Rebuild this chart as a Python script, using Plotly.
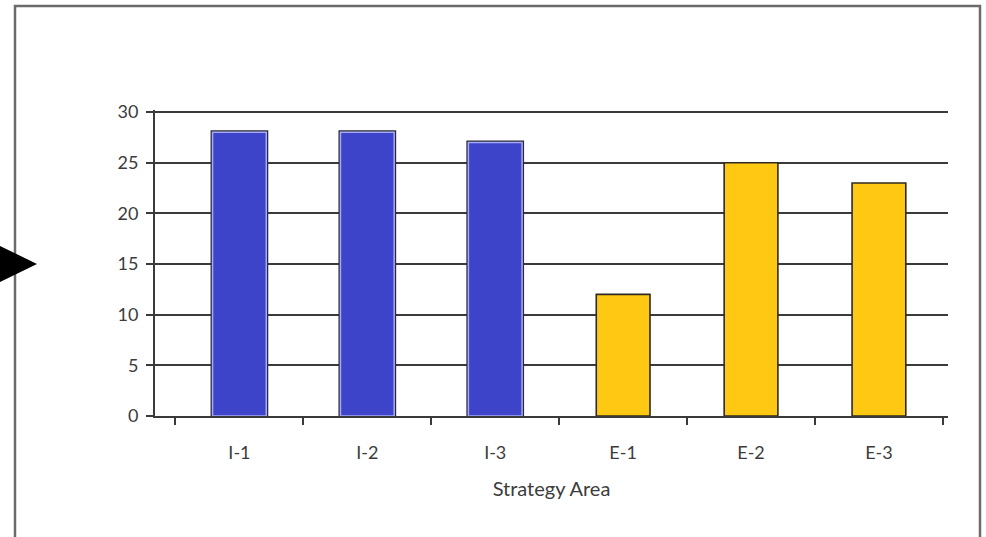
import plotly.graph_objects as go

# Strategy areas and the counts shown for each
intrinsic_areas = ["I-1", "I-2", "I-3"]
intrinsic_counts = [28, 28, 27]
extrinsic_areas = ["E-1", "E-2", "E-3"]
extrinsic_counts = [12, 25, 23]
category_order = intrinsic_areas + extrinsic_areas
y_ticks = [0, 5, 10, 15, 20, 25, 30]
y_max = 30.2  # a little headroom so the top gridline is kept

W, H = 986, 537
L, R, T, B = 155, 38, 110, 121
pw, ph = W - L - R, H - T - B

def px_x(x):
    return (x - L) / pw

def px_y(y):
    return (H - B - y) / ph

FONT = "Lato, 'Open Sans', sans-serif"
DARK = "#3a3a3a"
TEXT = "#3c3c3c"
BAR_W = 0.42

fig = go.Figure()

# blue bars: dark outer outline, then a thinner lavender inner edge on top
fig.add_trace(go.Bar(
    x=intrinsic_areas, y=intrinsic_counts, width=BAR_W,
    marker=dict(color="#3d44c9", line=dict(color="#2a2a3a", width=4)),
    hoverinfo="x+y", showlegend=False,
))
fig.add_trace(go.Bar(
    x=intrinsic_areas, y=intrinsic_counts, width=BAR_W,
    marker=dict(color="#3d44c9", line=dict(color="#a9aaf5", width=1.5)),
    hoverinfo="skip", showlegend=False,
))
fig.add_trace(go.Bar(
    x=extrinsic_areas, y=extrinsic_counts, width=BAR_W,
    marker=dict(color="#ffc813", line=dict(color="#2e2a20", width=1.6)),
    hoverinfo="x+y", showlegend=False,
))

fig.update_layout(
    width=W, height=H,
    margin=dict(l=L, r=R, t=T, b=B, pad=0),
    paper_bgcolor="white", plot_bgcolor="white",
    barmode="overlay",
    font=dict(family=FONT, color=TEXT, size=18),
    xaxis=dict(
        type="category", categoryorder="array", categoryarray=category_order,
        range=[-0.66, 5.54],
        showgrid=False, zeroline=False,
        showline=True, linecolor=DARK, linewidth=2,
        ticks="outside", tickson="boundaries", ticklen=7, tickwidth=2, tickcolor=DARK,
        tickfont=dict(size=18, color=TEXT),
        ticklabelstandoff=19,
        title=dict(text="Strategy Area", font=dict(size=20, color=TEXT), standoff=20),
    ),
    yaxis=dict(
        range=[0, y_max], tickvals=y_ticks,
        showgrid=True, gridcolor=DARK, gridwidth=2,
        zeroline=False,
        showline=True, linecolor=DARK, linewidth=2,
        ticks="outside", ticklen=7, tickwidth=2, tickcolor=DARK,
        tickfont=dict(size=18, color=TEXT),
        ticklabelstandoff=4,
    ),
    shapes=[
        # surrounding frame
        dict(type="rect", xref="paper", yref="paper", layer="below",
             x0=px_x(15), x1=px_x(980), y0=px_y(6), y1=px_y(600),
             line=dict(color="#6b6b6b", width=2.5), fillcolor="rgba(0,0,0,0)"),
        # pointer on the left edge
        dict(type="path", xref="paper", yref="paper",
             path=(f"M {px_x(-4)} {px_y(244)} L {px_x(37)} {px_y(264)} "
                   f"L {px_x(-4)} {px_y(284)} Z"),
             fillcolor="black", line=dict(color="black", width=0)),
    ],
)

fig.write_html("out.html")
